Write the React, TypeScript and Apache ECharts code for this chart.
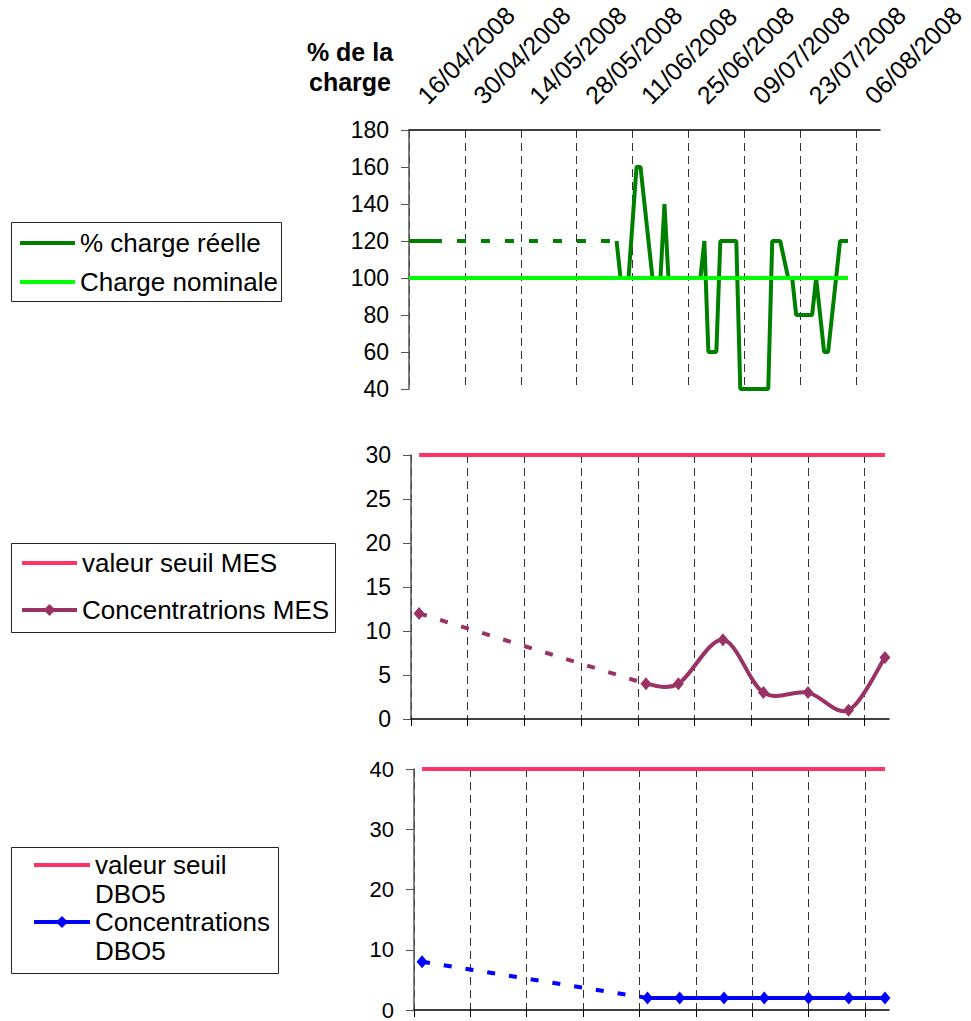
import React, { useEffect, useRef } from 'react';
import * as echarts from 'echarts';

// ---------- data ----------
const tickLabels = ['16/04/2008', '30/04/2008', '14/05/2008', '28/05/2008', '11/06/2008', '25/06/2008', '09/07/2008', '23/07/2008', '06/08/2008'];
const axisStart = '2008-04-16';
const axisEnd = '2008-08-12';

// % charge réelle (null = no data, bridged by a dashed segment)
const chargeDates = ['2008-04-16', '2008-04-22', '2008-05-15', '2008-06-07', '2008-06-08', '2008-06-10', '2008-06-12', '2008-06-13', '2008-06-14', '2008-06-16', '2008-06-18', '2008-06-19', '2008-06-20', '2008-06-28', '2008-06-29', '2008-06-30', '2008-07-02', '2008-07-03', '2008-07-07', '2008-07-08', '2008-07-15', '2008-07-16', '2008-07-18', '2008-07-20', '2008-07-21', '2008-07-22', '2008-07-26', '2008-07-27', '2008-07-29', '2008-07-30', '2008-08-02', '2008-08-04'];
const chargeValues = [120, 120, null, 120, 100, 100, 160, 160, 140, 100, 100, 140, 100, 100, 120, 60, 60, 120, 120, 40, 40, 120, 120, 100, 100, 80, 80, 100, 60, 60, 120, 120];
const nominalDates = ['2008-04-16', '2008-08-04'];
const nominalValues = [100, 100];

// MES / DBO5 samples (null = no samples, bridged by a dashed segment)
const sampleDates = ['2008-04-18', '2008-05-15', '2008-06-13', '2008-06-21', '2008-07-02', '2008-07-12', '2008-07-23', '2008-08-02', '2008-08-11'];
const mesValues = [12, null, 4, 4, 9, 3, 3, 1, 7];
const dboValues = [8, null, 2, 2, 2, 2, 2, 2, 2];
const thresholdDates = ['2008-04-18', '2008-08-11'];
const mesThreshold = [30, 30];
const dboThreshold = [40, 40];

// ---------- helpers ----------
const BASE = Date.UTC(2008, 3, 16);
const DAY = 86400000;
const dayOf = (iso: string) => {
  const [y, m, d] = iso.split('-').map(Number);
  return (Date.UTC(y, m - 1, d) - BASE) / DAY;
};
const dayOfFr = (s: string) => {
  const [d, m, y] = s.split('/').map(Number);
  return (Date.UTC(y, m - 1, d) - BASE) / DAY;
};
const tickDays = tickLabels.map(dayOfFr);
const pairs = (dates: string[], values: (number | null)[]) =>
  dates.map((d, i) => [dayOf(d), values[i] === null ? '-' : values[i]]);
const bridge = (dates: string[], values: (number | null)[]) => {
  const out: any[] = [];
  values.forEach((v, i) => {
    if (v === null) {
      out.push([dayOf(dates[i - 1]), values[i - 1]], [dayOf(dates[i + 1]), values[i + 1]]);
    }
  });
  return out;
};
// runs of consecutive non-null samples
const runs = (dates: string[], values: (number | null)[]) => {
  const out: number[][][] = [];
  let cur: number[][] = [];
  values.forEach((v, i) => {
    if (v === null) {
      if (cur.length) out.push(cur);
      cur = [];
    } else cur.push([dayOf(dates[i]), v]);
  });
  if (cur.length) out.push(cur);
  return out.filter((r) => r.length > 1);
};
// smoothed (Catmull-Rom style) path through pixel points, like a spreadsheet "smoothed line"
const smoothPath = (pts: number[][]) => {
  let d = `M${pts[0][0]},${pts[0][1]}`;
  for (let i = 0; i < pts.length - 1; i++) {
    const p0 = pts[i - 1] || pts[i];
    const p1 = pts[i];
    const p2 = pts[i + 1];
    const p3 = pts[i + 2] || pts[i + 1];
    const c1x = p1[0] + (p2[0] - p0[0]) / 6;
    const c1y = p1[1] + (p2[1] - p0[1]) / 6;
    const c2x = p2[0] - (p3[0] - p1[0]) / 6;
    const c2y = p2[1] - (p3[1] - p1[1]) / 6;
    d += ` C${c1x},${c1y} ${c2x},${c2y} ${p2[0]},${p2[1]}`;
  }
  return d;
};

const FONT = '"Liberation Sans", Arial, sans-serif';
const C_REAL = '#008000';
const C_NOM = '#00FF00';
const C_SEUIL = '#FF3366';
const C_MES = '#993366';
const C_DBO = '#0000FF';
const BAR_ICON = 'path://M0,0H55V4H0Z';

const smoothSeries = (name: string, axis: number, dates: string[], values: (number | null)[], color: string) => {
  const segs = runs(dates, values);
  return {
    name,
    type: 'custom',
    xAxisIndex: axis,
    yAxisIndex: axis,
    data: segs.map((s) => s[0]),
    renderItem: (params: any, api: any) => {
      const seg = segs[params.dataIndex];
      const pts = seg.map((p) => api.coord(p));
      return {
        type: 'path',
        shape: { pathData: smoothPath(pts) },
        style: { stroke: color, lineWidth: 4, fill: 'none', lineJoin: 'round' },
      };
    },
  };
};

export default function App() {
  const ref = useRef<HTMLDivElement>(null);
  useEffect(() => {
    if (!ref.current) return;
    const chart = echarts.init(ref.current, null, { renderer: 'svg' });
    const xMax = dayOf(axisEnd);
    const xMin = dayOf(axisStart);
    const xAxes = [0, 1, 2].map((i) => ({
      type: 'value',
      gridIndex: i,
      min: xMin,
      max: xMax,
      position: i === 0 ? 'top' : 'bottom',
      axisLine: { show: true, onZero: false, lineStyle: { color: '#000', width: 1.5 } },
      axisTick: { show: i !== 0, customValues: tickDays, length: 7, inside: false, lineStyle: { color: '#000', width: 1 } },
      axisLabel: {
        show: i === 0,
        customValues: tickDays,
        rotate: -45,
        margin: 18,
        padding: [0, 0, 0, 18],
        fontSize: 25,
        fontFamily: FONT,
        color: '#000',
        formatter: (v: number) => {
          const k = tickDays.indexOf(v);
          return k >= 0 ? tickLabels[k] : '';
        },
      },
      splitLine: { show: true, lineStyle: { color: '#333', width: 1, type: [8, 5] } },
    }));
    const yAxis = (i: number, min: number, max: number, interval: number, size: number) => ({
      type: 'value',
      gridIndex: i,
      min,
      max,
      interval,
      axisLine: { show: true, lineStyle: { color: '#555', width: 1.5 } },
      axisTick: { show: true, length: 8, lineStyle: { color: '#555', width: 1 } },
      axisLabel: { fontSize: size, lineHeight: 18, fontFamily: FONT, color: '#000', margin: 20 },
      splitLine: { show: false },
    });
    const legendBase = {
      orient: 'vertical',
      padding: 0,
      borderWidth: 0,
      selectedMode: false,
      itemWidth: 55,
      itemHeight: 15,
      lineStyle: { width: 4 },
      textStyle: { fontSize: 26, lineHeight: 27, color: '#000', fontFamily: FONT },
    };
    const option: any = {
      animation: false,
      backgroundColor: '#fff',
      textStyle: { fontFamily: FONT },
      grid: [
        { left: 409, top: 130, width: 471, height: 259, containLabel: false, outerBoundsMode: 'none' },
        { left: 411, top: 455, width: 478, height: 264, containLabel: false, outerBoundsMode: 'none' },
        { left: 414, top: 769, width: 475, height: 241, containLabel: false, outerBoundsMode: 'none' },
      ],
      xAxis: xAxes,
      yAxis: [yAxis(0, 40, 180, 20, 23), yAxis(1, 0, 30, 5, 23), yAxis(2, 0, 40, 10, 22)],
      legend: [
        {
          ...legendBase,
          left: 20,
          top: 229.5,
          itemGap: 12,
          data: [
            { name: '% charge réelle', icon: BAR_ICON },
            { name: 'Charge nominale', icon: BAR_ICON },
          ],
        },
        {
          ...legendBase,
          left: 20,
          top: 549.5,
          itemGap: 20,
          data: [{ name: 'valeur seuil MES', icon: BAR_ICON }, { name: 'Concentratrions MES' }],
        },
        {
          ...legendBase,
          left: 32,
          top: 822.25,
          itemWidth: 56,
          itemGap: -28.5,
          textStyle: { fontSize: 26, lineHeight: 28.5, color: '#000', fontFamily: FONT },
          formatter: (name: string) => ' \n' + name.replace(' DBO5', '\nDBO5'),
          data: [{ name: 'valeur seuil DBO5', icon: BAR_ICON }, { name: 'Concentrations DBO5' }],
        },
      ],
      graphic: [
        { type: 'rect', shape: { x: 11.5, y: 222.5, width: 270, height: 79 }, style: { fill: 'none', stroke: '#222', lineWidth: 1 } },
        { type: 'rect', shape: { x: 11.5, y: 543.5, width: 324, height: 89 }, style: { fill: 'none', stroke: '#222', lineWidth: 1 } },
        { type: 'rect', shape: { x: 11.5, y: 847.5, width: 267, height: 126 }, style: { fill: 'none', stroke: '#222', lineWidth: 1 } },
        {
          type: 'text',
          x: 350,
          y: 37,
          style: {
            text: '% de la\ncharge',
            font: 'bold 25px ' + FONT,
            textAlign: 'center',
            textVerticalAlign: 'top',
            lineHeight: 30,
            fill: '#000',
          },
        },
      ],
      series: [
        {
          name: '% charge réelle',
          type: 'line',
          xAxisIndex: 0,
          yAxisIndex: 0,
          data: pairs(chargeDates, chargeValues),
          symbol: 'none',
          connectNulls: false,
          itemStyle: { color: C_REAL },
          lineStyle: { color: C_REAL, width: 4 },
        },
        {
          name: 'charge-estimee',
          type: 'line',
          xAxisIndex: 0,
          yAxisIndex: 0,
          data: bridge(chargeDates, chargeValues),
          symbol: 'none',
          itemStyle: { color: C_REAL },
          lineStyle: { color: C_REAL, width: 4, type: [9, 15] },
        },
        {
          name: 'Charge nominale',
          type: 'line',
          xAxisIndex: 0,
          yAxisIndex: 0,
          data: pairs(nominalDates, nominalValues),
          symbol: 'none',
          itemStyle: { color: C_NOM },
          lineStyle: { color: C_NOM, width: 4 },
        },
        {
          name: 'valeur seuil MES',
          type: 'line',
          xAxisIndex: 1,
          yAxisIndex: 1,
          data: pairs(thresholdDates, mesThreshold),
          symbol: 'none',
          itemStyle: { color: C_SEUIL },
          lineStyle: { color: C_SEUIL, width: 4 },
        },
        {
          name: 'mes-estimee',
          type: 'line',
          xAxisIndex: 1,
          yAxisIndex: 1,
          data: bridge(sampleDates, mesValues),
          symbol: 'none',
          itemStyle: { color: C_MES },
          lineStyle: { color: C_MES, width: 4, type: [8, 14] },
        },
        smoothSeries('mes-courbe', 1, sampleDates, mesValues, C_MES),
        {
          name: 'Concentratrions MES',
          type: 'line',
          xAxisIndex: 1,
          yAxisIndex: 1,
          data: pairs(sampleDates, mesValues),
          connectNulls: false,
          symbol: 'diamond',
          symbolSize: [11, 13],
          itemStyle: { color: C_MES },
          lineStyle: { color: C_MES, width: 0 },
        },
        {
          name: 'valeur seuil DBO5',
          type: 'line',
          xAxisIndex: 2,
          yAxisIndex: 2,
          data: pairs(thresholdDates, dboThreshold),
          symbol: 'none',
          itemStyle: { color: C_SEUIL },
          lineStyle: { color: C_SEUIL, width: 4 },
        },
        {
          name: 'dbo-estimee',
          type: 'line',
          xAxisIndex: 2,
          yAxisIndex: 2,
          data: bridge(sampleDates, dboValues),
          symbol: 'none',
          itemStyle: { color: C_DBO },
          lineStyle: { color: C_DBO, width: 4, type: [8, 14] },
        },
        smoothSeries('dbo-courbe', 2, sampleDates, dboValues, C_DBO),
        {
          name: 'Concentrations DBO5',
          type: 'line',
          xAxisIndex: 2,
          yAxisIndex: 2,
          data: pairs(sampleDates, dboValues),
          connectNulls: false,
          symbol: 'diamond',
          symbolSize: [11, 13],
          itemStyle: { color: C_DBO },
          lineStyle: { color: C_DBO, width: 0 },
        },
      ],
    };
    chart.setOption(option);
    return () => chart.dispose();
  }, []);
  return (
    <div
      ref={ref}
      style={{ position: 'absolute', left: 0, top: 0, width: 971, height: 1021, background: '#fff' }}
    />
  );
}
